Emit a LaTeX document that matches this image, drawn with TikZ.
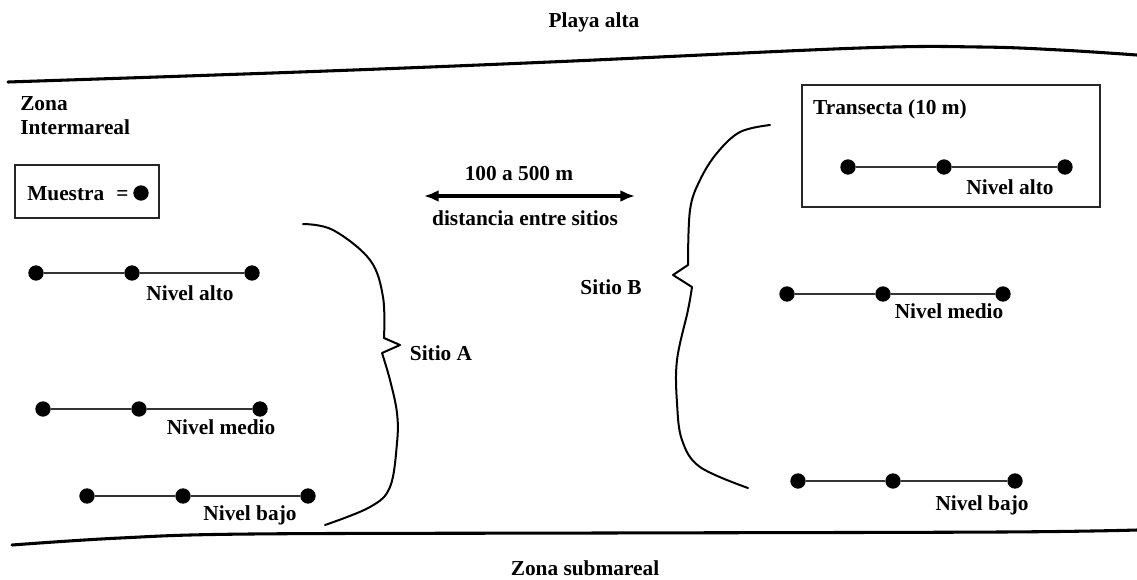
\documentclass[tikz,border=0pt]{standalone}
\usepackage{fontspec}
\setmainfont{Liberation Serif}
\usetikzlibrary{arrows.meta}
\begin{document}
\begin{tikzpicture}[x=0.75pt,y=-0.75pt,
  lbl/.style={font=\fontsize{16}{18}\selectfont\bfseries, inner sep=0pt},
  dot/.style={circle, fill=black, inner sep=0pt, minimum size=11.5pt},
  rope/.style={line width=1.1pt, draw=black!80},
  shore/.style={line width=2.3pt, line cap=round},
  brace/.style={line width=1.5pt, line join=round, line cap=round},
  frame/.style={draw=black!85, line width=0.9pt, inner sep=0pt}
]
\useasboundingbox (0,0) rectangle (1137,579);

% shore lines
\draw[shore] plot[smooth, tension=0.6] coordinates
  {(8,82) (300,72) (550,62) (860,48) (980,47) (1060,50) (1137,55)};
\draw[shore] plot[smooth, tension=0.6] coordinates
  {(12,545) (120,538) (250,534) (600,533) (1000,532) (1137,530)};

% zone labels
\node[lbl, anchor=base] (playa) at (594,27) {Playa alta};
\node[lbl, anchor=base] (sub) at (585,575) {Zona submareal};
\node[lbl, anchor=base west] (zona) at (20,110) {Zona};
\node[lbl, anchor=base west] (inter) at (20,134) {Intermareal};

% legend
\node[frame, minimum width=108pt, minimum height=39.75pt] (legend) at (87,191.5) {};
\node[lbl, anchor=base west] (muestra) at (27,200) {Muestra};
\node[lbl, anchor=base west] (eq) at (116,200) {=};
\node[dot] (ldot) at (141,193) {};

% distance arrow
\coordinate (arrL) at (424,196);
\coordinate (arrR) at (635,196);
\draw[line width=3pt, {Latex[length=11pt,width=9pt]}-{Latex[length=11pt,width=9pt]}] (arrL) -- (arrR);
\node[lbl, anchor=base] (dist) at (519,180) {100 a 500 m};
\node[lbl, anchor=base] (entre) at (525,225) {distancia entre sitios};

% site A transects
\node[dot] (a1) at (36,273) {};
\node[dot] (a2) at (132,273) {};
\node[dot] (a3) at (252,273) {};
\node[dot] (b1) at (43,409) {};
\node[dot] (b2) at (139,409) {};
\node[dot] (b3) at (260,409) {};
\node[dot] (c1) at (87,496) {};
\node[dot] (c2) at (183,496) {};
\node[dot] (c3) at (308,496) {};
\draw[rope] (a1) -- (a2) -- (a3);
\draw[rope] (b1) -- (b2) -- (b3);
\draw[rope] (c1) -- (c2) -- (c3);
\node[lbl, anchor=base] (aAlto) at (190,300) {Nivel alto};
\node[lbl, anchor=base] (aMedio) at (221,434) {Nivel medio};
\node[lbl, anchor=base] (aBajo) at (250,520) {Nivel bajo};

% site A brace
\draw[brace] plot[smooth, tension=0.6] coordinates
  {(303,224) (333,230) (370,260) (383,297) (384,338)}
  -- (400,345) -- (382,353)
  plot[smooth, tension=0.6] coordinates
  {(382,353) (390,380) (397,413) (397,443) (390,487) (370,507) (325,525)};
\node[lbl, anchor=base] (sitioA) at (441,360) {Sitio A};

% site B transects
\node[frame, minimum width=223.5pt, minimum height=91.5pt] (tbox) at (951,146) {};
\node[lbl, anchor=base] (trans) at (890,114) {Transecta (10 m)};
\node[dot] (d1) at (848,167) {};
\node[dot] (d2) at (944,167) {};
\node[dot] (d3) at (1065,167) {};
\node[dot] (e1) at (787,294) {};
\node[dot] (e2) at (883,294) {};
\node[dot] (e3) at (1003,294) {};
\node[dot] (f1) at (798,481) {};
\node[dot] (f2) at (893,481) {};
\node[dot] (f3) at (1015,481) {};
\draw[rope] (d1) -- (d2) -- (d3);
\draw[rope] (e1) -- (e2) -- (e3);
\draw[rope] (f1) -- (f2) -- (f3);
\node[lbl, anchor=base] (bAlto) at (1010,194) {Nivel alto};
\node[lbl, anchor=base] (bMedio) at (949,318) {Nivel medio};
\node[lbl, anchor=base] (bBajo) at (982,510) {Nivel bajo};

% site B brace
\draw[brace] plot[smooth, tension=0.6] coordinates
  {(770,125) (740,132) (717,153) (700,180) (690,210) (688,265)}
  -- (673,275) -- (692,287)
  plot[smooth, tension=0.6] coordinates
  {(692,287) (688,310) (677,360) (677,403) (682,440) (700,467) (748,488)};
\node[lbl, anchor=base] (sitioB) at (611,294) {Sitio B};
\end{tikzpicture}
\end{document}
